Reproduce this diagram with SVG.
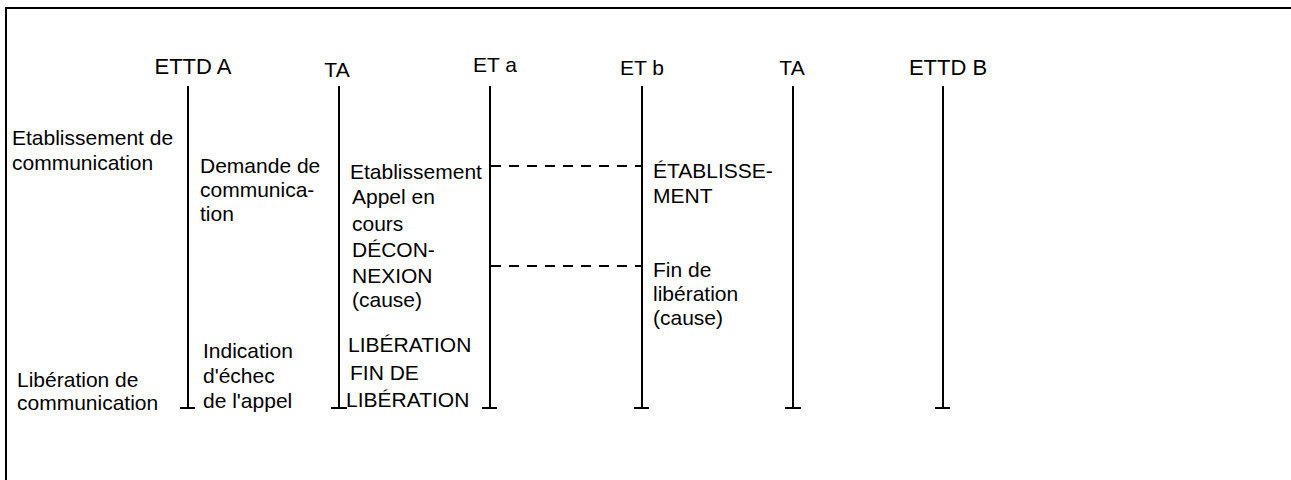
<svg xmlns="http://www.w3.org/2000/svg" width="1291" height="480" viewBox="0 0 1291 480">
<style>
text{font-family:"Liberation Sans",Arial,sans-serif;font-size:21px;fill:#000}
.ll{stroke:#000;stroke-width:2;fill:none}
.dash{stroke:#000;stroke-width:2;stroke-dasharray:10 8;fill:none}
.mid{text-anchor:middle}
</style>
<rect width="1291" height="480" fill="#fff"/>
<path class="ll" d="M6,480 V8 H1291"/>
<g id="ettdA"><text class="mid" x="193" y="74" style="font-size:22px">ETTD A</text><path class="ll" d="M188,86 V408 M180,408 H195"/></g>
<g id="taA"><text class="mid" x="337" y="77">TA</text><path class="ll" d="M339,86 V408 M331,408 H347"/></g>
<g id="eta"><text class="mid" x="495" y="72">ET a</text><path class="ll" d="M490,86 V408 M482,408 H497"/></g>
<g id="etb"><text class="mid" x="642" y="75">ET b</text><path class="ll" d="M642,86 V408 M634,408 H649"/></g>
<g id="taB"><text class="mid" x="792" y="75">TA</text><path class="ll" d="M793,86 V408 M785,408 H801"/></g>
<g id="ettdB"><text class="mid" x="948" y="75" style="font-size:22px">ETTD B</text><path class="ll" d="M943,86 V408 M935,408 H950"/></g>
<g id="connectors">
<path class="dash" d="M491,166 H642"/>
<path class="dash" d="M491,266 H642"/>
</g>
<g id="labels">
<text x="12" y="145">Etablissement de</text>
<text x="12" y="170">communication</text>
<text x="17" y="387">Libération de</text>
<text x="17" y="410">communication</text>
<text x="200" y="173">Demande de</text>
<text x="200" y="197">communica-</text>
<text x="200" y="221">tion</text>
<text x="203" y="358">Indication</text>
<text x="203" y="383">d'échec</text>
<text x="203" y="408">de l'appel</text>
<text x="350" y="179">Etablissement</text>
<text x="352" y="204">Appel en</text>
<text x="352" y="231">cours</text>
<text x="352" y="257">DÉCON-</text>
<text x="352" y="283">NEXION</text>
<text x="352" y="307">(cause)</text>
<text x="348" y="352">LIBÉRATION</text>
<text x="350" y="380">FIN DE</text>
<text x="346" y="407">LIBÉRATION</text>
<text x="653" y="178">ÉTABLISSE-</text>
<text x="653" y="203">MENT</text>
<text x="653" y="277">Fin de</text>
<text x="653" y="301">libération</text>
<text x="653" y="325">(cause)</text>
</g>
</svg>
